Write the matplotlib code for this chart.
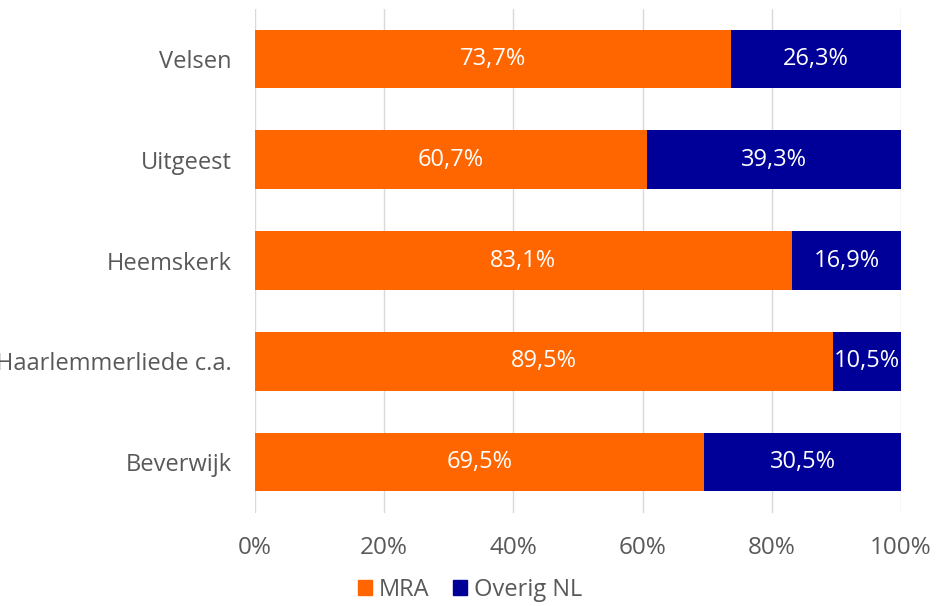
import matplotlib
matplotlib.use("Agg")
import matplotlib.pyplot as plt
from matplotlib.patches import Patch

plt.rcParams['font.family'] = ['Open Sans', 'DejaVu Sans']

categories = ["Velsen", "Uitgeest", "Heemskerk", "Haarlemmerliede c.a.", "Beverwijk"]
mra = [73.7, 60.7, 83.1, 89.5, 69.5]
overig = [26.3, 39.3, 16.9, 10.5, 30.5]
series_names = ["MRA", "Overig NL"]
xticks = [0, 20, 40, 60, 80, 100]

c_mra = "#FF6600"
c_ov = "#000099"
txt = "#595959"

fig = plt.figure(figsize=(9.42, 6.06), dpi=100)
ax = fig.add_axes([255/942, 1-512.5/606, (901-255)/942, (512.5-8.5)/606])

y = list(range(len(categories)))
bh = 0.58
ax.barh(y, mra, height=bh, color=c_mra, zorder=3)
ax.barh(y, overig, left=mra, height=bh, color=c_ov, zorder=3)

def fmt(v):
    return f"{v:.1f}".replace(".", ",") + "%"

for yi, a, b in zip(y, mra, overig):
    ax.text(a/2, yi, fmt(a), ha="center", va="center", color="white", fontsize=17, zorder=4)
    ax.text(a + b/2, yi, fmt(b), ha="center", va="center", color="white", fontsize=17, zorder=4)

ax.set_ylim(len(categories)-0.5, -0.5)
ax.set_xlim(0, 100)
ax.set_yticks(y)
ax.set_yticklabels(categories, fontsize=17, color=txt)
ax.set_xticks(xticks)
ax.set_xticklabels([f"{t}%" for t in xticks], fontsize=17.5, color=txt)
ax.tick_params(axis="both", length=0)
ax.tick_params(axis="y", pad=17)
ax.tick_params(axis="x", pad=17)
ax.grid(axis="x", color="#D9D9D9", linewidth=1, zorder=0)
for s in ax.spines.values():
    s.set_visible(False)

handles = [Patch(color=c_mra, label=series_names[0]), Patch(color=c_ov, label=series_names[1])]
leg = fig.legend(handles=handles, loc="center", bbox_to_anchor=(470/942, 1-590/606), ncol=2,
                 frameon=False, fontsize=17, handlelength=0.6, handleheight=0.6,
                 handletextpad=0.3, columnspacing=1.0)
for t in leg.get_texts():
    t.set_color(txt)

fig.savefig("out.png", dpi=100)
